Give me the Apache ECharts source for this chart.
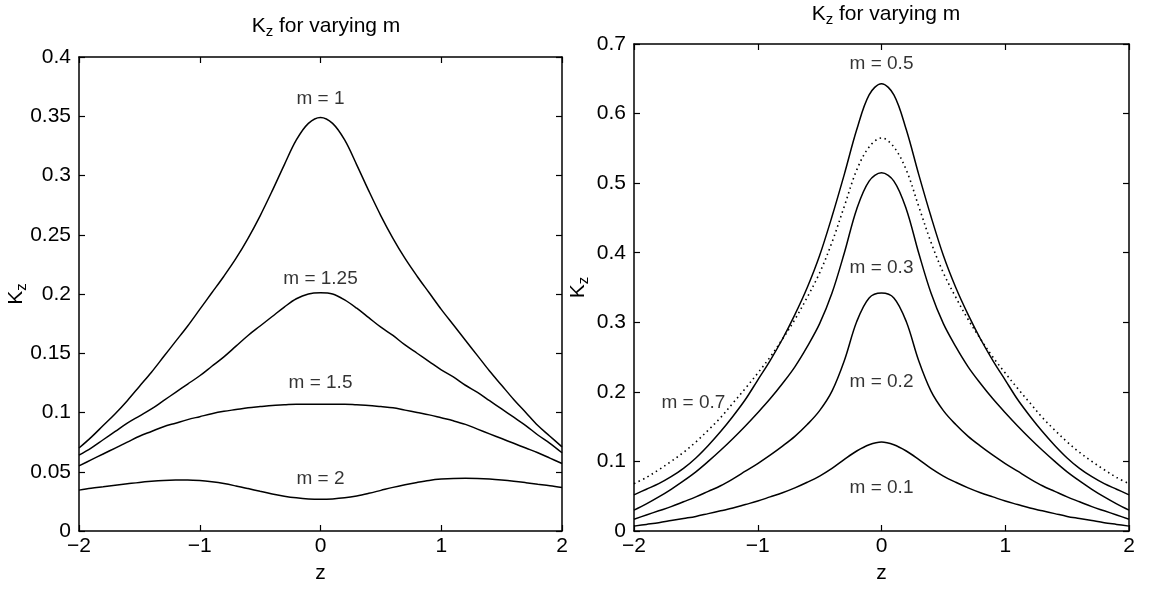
<!DOCTYPE html>
<html><head><meta charset="utf-8">
<script src="https://cdn.jsdelivr.net/npm/echarts@6/dist/echarts.min.js"></script>
<style>html,body{margin:0;padding:0;background:#fff}#c{width:1152px;height:589px}</style>
</head><body><div id="c"></div>
<script>
// ---------- data ----------
const zValues = [-2.0,-1.9,-1.8,-1.7,-1.6,-1.5,-1.4,-1.3,-1.2,-1.1,-1.0,-0.9,-0.8,-0.7,-0.6,-0.5,-0.4,-0.3,-0.2,-0.1,0.0,
                 0.1,0.2,0.3,0.4,0.5,0.6,0.7,0.8,0.9,1.0,1.1,1.2,1.3,1.4,1.5,1.6,1.7,1.8,1.9,2.0];

const xTicks = [-2,-1,0,1,2];
const leftYTicks = [0,0.05,0.1,0.15,0.2,0.25,0.3,0.35,0.4];
const rightYTicks = [0,0.1,0.2,0.3,0.4,0.5,0.6,0.7];

// left panel: m = 1, 1.25, 1.5, 2
const kzM1 = [0.070,0.079,0.089,0.099,0.110,0.122,0.134,0.147,0.160,0.173,0.187,0.201,0.215,0.230,0.247,0.266,0.287,0.309,0.330,0.344,0.349,
              0.344,0.330,0.309,0.287,0.266,0.247,0.230,0.215,0.201,0.187,0.174,0.161,0.148,0.135,0.123,0.111,0.100,0.089,0.080,0.071];
const kzM125 = [0.064,0.070,0.077,0.084,0.091,0.097,0.103,0.110,0.117,0.124,0.131,0.139,0.147,0.156,0.165,0.173,0.181,0.189,0.196,0.200,0.201,
                0.200,0.195,0.188,0.180,0.172,0.165,0.157,0.150,0.143,0.136,0.130,0.123,0.117,0.110,0.103,0.096,0.089,0.081,0.074,0.066];
const kzM15 = [0.055,0.060,0.065,0.070,0.075,0.080,0.084,0.088,0.091,0.094,0.0965,0.099,0.101,0.1025,0.104,0.105,0.106,0.1065,0.107,0.107,0.107,
               0.107,0.107,0.1065,0.106,0.105,0.104,0.102,0.100,0.098,0.0955,0.093,0.090,0.086,0.082,0.078,0.074,0.070,0.066,0.0615,0.057];
const kzM2 = [0.0345,0.036,0.0373,0.0386,0.0398,0.041,0.0419,0.0426,0.043,0.0431,0.0426,0.0415,0.040,0.038,0.0358,0.0335,0.0313,0.0294,0.028,0.0271,0.0268,
              0.0271,0.028,0.0296,0.0318,0.0343,0.0368,0.039,0.041,0.0427,0.0438,0.0444,0.0445,0.0443,0.0438,0.043,0.042,0.0408,0.0395,0.0382,0.0367];

// right panel: m = 0.1, 0.2, 0.3, 0.5 (solid) and 0.7 (dotted)
const kzM01 = [0.007,0.0095,0.012,0.015,0.018,0.021,0.025,0.029,0.033,0.038,0.043,0.049,0.055,0.062,0.070,0.079,0.090,0.103,0.115,0.124,0.128,
               0.124,0.115,0.103,0.090,0.079,0.070,0.062,0.055,0.049,0.043,0.038,0.033,0.029,0.025,0.021,0.018,0.015,0.012,0.0095,0.007];
const kzM02 = [0.017,0.023,0.029,0.035,0.042,0.049,0.057,0.065,0.075,0.086,0.097,0.109,0.122,0.136,0.153,0.173,0.201,0.245,0.301,0.335,0.342,
               0.335,0.301,0.245,0.201,0.173,0.153,0.136,0.122,0.109,0.097,0.086,0.075,0.065,0.057,0.049,0.042,0.035,0.029,0.023,0.017];
const kzM03 = [0.030,0.039,0.049,0.060,0.072,0.085,0.100,0.116,0.133,0.151,0.170,0.190,0.212,0.236,0.265,0.298,0.342,0.400,0.463,0.503,0.515,
               0.503,0.463,0.400,0.342,0.298,0.265,0.236,0.212,0.190,0.170,0.151,0.133,0.116,0.100,0.085,0.072,0.060,0.049,0.039,0.030];
const kzM05 = [0.052,0.060,0.068,0.078,0.090,0.105,0.123,0.143,0.165,0.189,0.217,0.245,0.276,0.311,0.350,0.396,0.452,0.513,0.577,0.627,0.643,
               0.627,0.577,0.513,0.452,0.396,0.350,0.311,0.276,0.245,0.217,0.189,0.165,0.143,0.123,0.105,0.090,0.078,0.068,0.060,0.052];
const kzM07 = [0.068,0.077,0.088,0.100,0.113,0.128,0.145,0.163,0.184,0.205,0.227,0.250,0.276,0.304,0.336,0.371,0.415,0.467,0.519,0.552,0.565,
               0.552,0.519,0.467,0.415,0.371,0.336,0.304,0.276,0.250,0.227,0.205,0.184,0.163,0.145,0.128,0.113,0.100,0.088,0.077,0.068];

// curve annotations [z, Kz, text]
const leftLabels = [[0,0.365,'m = 1'],[0,0.213,'m = 1.25'],[0,0.125,'m = 1.5'],[0,0.044,'m = 2']];
const rightLabels = [[0,0.6715,'m = 0.5'],[0,0.379,'m = 0.3'],[0,0.214,'m = 0.2'],[0,0.062,'m = 0.1'],[-1.52,0.185,'m = 0.7']];

// ---------- chart ----------
const FONT = '"Liberation Sans", Arial, Helvetica, sans-serif';
const chart = echarts.init(document.getElementById('c'), null, {renderer:'canvas'});

function pts(arr){ return zValues.map((z,i)=>[z, arr[i]]); }
function fmtY(v){ return String(+(+v).toFixed(3)); }
function fmtX(v){ return v < 0 ? '\u2212' + Math.abs(v) : String(v); }

function xAx(grid, pos, ticks){
  return {
    gridIndex: grid, type:'value', position: pos,
    min: ticks[0], max: ticks[ticks.length-1], interval: ticks[1]-ticks[0],
    axisLine:{show:true, onZero:false, lineStyle:{color:'#000', width:1.5}},
    axisTick:{show:true, inside:true, length:6, lineStyle:{color:'#000', width:1.2}},
    axisLabel:{show: pos==='bottom', color:'#000', fontFamily:FONT, fontSize:21, margin:5, formatter:fmtX},
    splitLine:{show:false},
    name: pos==='bottom' ? 'z' : '', nameLocation:'middle', nameGap:32, nameMoveOverlap:false,
    nameTextStyle:{color:'#000', fontFamily:FONT, fontSize:21}
  };
}
function yAx(grid, pos, ticks, gap){
  return {
    gridIndex: grid, type:'value', position: pos,
    min: ticks[0], max: ticks[ticks.length-1], interval: ticks[1]-ticks[0],
    axisLine:{show:true, onZero:false, lineStyle:{color:'#000', width:1.5}},
    axisTick:{show:true, inside:true, length:6, lineStyle:{color:'#000', width:1.2}},
    axisLabel:{show: pos==='left', color:'#000', fontFamily:FONT, fontSize:21, margin:8, formatter:fmtY},
    splitLine:{show:false},
    name: pos==='left' ? '{k|K}{s|z}' : '', nameLocation:'middle', nameGap:gap, nameRotate:90, nameMoveOverlap:false,
    nameTextStyle:{color:'#000', fontFamily:FONT, fontSize:21,
      rich:{k:{fontFamily:FONT, fontSize:21, lineHeight:26, color:'#000'},
            s:{fontFamily:FONT, fontSize:15, lineHeight:12, verticalAlign:'bottom', color:'#000'}}}
  };
}
function line(data, xi, yi, dotted){
  return {type:'line', xAxisIndex:xi, yAxisIndex:yi, data: pts(data), showSymbol:false, symbol:'none',
          smooth:0.35, lineStyle:{color:'#000', width: dotted?1.6:1.5, type: dotted? [1.5,3.5] : 'solid'},
          silent:true, z:3};
}
function labels(list, xi, yi){
  return {type:'scatter', xAxisIndex:xi, yAxisIndex:yi, symbolSize:0, silent:true, z:5,
          data: list.map(d=>({value:[d[0],d[1]], name:d[2]})),
          label:{show:true, position:[0,0], align:'center', verticalAlign:'middle', formatter:'{b}',
                 color:'#000', fontFamily:FONT, fontSize:19}};
}

const titleRich = {k:{fontFamily:FONT, fontSize:21, fontWeight:'normal', lineHeight:26, color:'#000'},
                   s:{fontFamily:FONT, fontSize:15, fontWeight:'normal', lineHeight:12, verticalAlign:'bottom', color:'#000'},
                   t:{fontFamily:FONT, fontSize:21, fontWeight:'normal', lineHeight:26, color:'#000'}};

chart.setOption({
  animation:false,
  backgroundColor:'#fff',
  title:[
    {text:'{k|K}{s|z}{t| for varying m}', left:321, top:8, textAlign:'center', textStyle:{fontWeight:'normal', rich:titleRich}},
    {text:'{k|K}{s|z}{t| for varying m}', left:881, top:-4, textAlign:'center', textStyle:{fontWeight:'normal', rich:titleRich}}
  ],
  grid:[
    {left:79, top:57, width:483, height:482},
    {left:634, top:44, width:495, height:491}
  ],
  xAxis:[ xAx(0,'bottom',xTicks), xAx(0,'top',xTicks), xAx(1,'bottom',xTicks), xAx(1,'top',xTicks) ],
  yAxis:[ yAx(0,'left',leftYTicks,50), yAx(0,'right',leftYTicks,0), yAx(1,'left',rightYTicks,43), yAx(1,'right',rightYTicks,0) ],
  series:[
    line(kzM1,0,0), line(kzM125,0,0), line(kzM15,0,0), line(kzM2,0,0),
    labels(leftLabels,0,0),
    line(kzM01,2,2), line(kzM02,2,2), line(kzM03,2,2), line(kzM05,2,2), line(kzM07,2,2,true),
    labels(rightLabels,2,2)
  ]
});
</script></body></html>
